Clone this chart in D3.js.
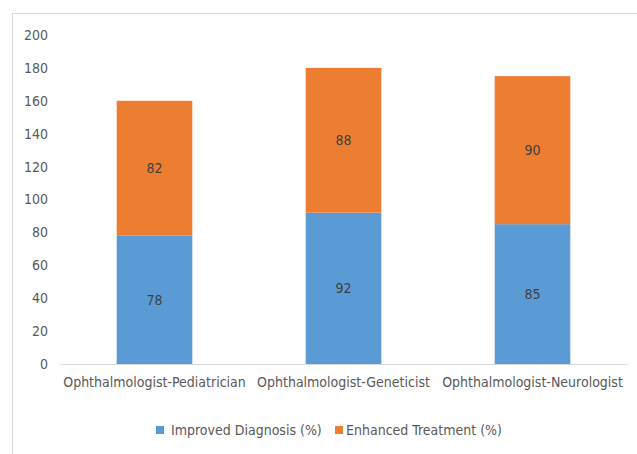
<!DOCTYPE html>
<html>
<head>
<meta charset="utf-8">
<script src="https://cdn.jsdelivr.net/npm/d3@7"></script>
<style>
  body { margin: 0; background: #fff; }
  text { font-family: "DejaVu Sans Condensed", sans-serif; }
</style>
</head>
<body>
<svg width="637" height="454"></svg>
<script>
var categories = ["Ophthalmologist-Pediatrician", "Ophthalmologist-Geneticist", "Ophthalmologist-Neurologist"];
var diagnosis = [78, 92, 85];
var treatment = [82, 88, 90];
var seriesNames = ["Improved Diagnosis (%)", "Enhanced Treatment (%)"];
var yTicks = [0, 20, 40, 60, 80, 100, 120, 140, 160, 180, 200];
var colors = ["#5b9bd5", "#ed7d31"];

var svg = d3.select("svg"),
    margin = {top: 35, left: 60},
    width = 627 - margin.left,
    height = 364 - margin.top;

var fontFam = "'DejaVu Sans Condensed', sans-serif";

// chart border (runs off the right and bottom of the picture)
svg.append("rect")
    .attr("x", 12.5).attr("y", 13.5)
    .attr("width", 640).attr("height", 460)
    .attr("fill", "none")
    .attr("stroke", "#d9d9d9");

var data = categories.map(function(c, i) {
    return {cat: c, diag: diagnosis[i], treat: treatment[i]};
});

var x = d3.scaleBand().domain(categories).range([0, width]).paddingInner(0.6).paddingOuter(0.3),
    y = d3.scaleLinear().domain([0, 200]).range([height, 0]);

var stack = d3.stack().keys(["diag", "treat"]);

var g = svg.append("g")
    .attr("transform", "translate(" + margin.left + "," + margin.top + ")");

var layer = g.selectAll(".layer")
    .data(stack(data))
    .enter().append("g")
    .attr("class", "layer")
    .attr("fill", function(d, i) { return colors[i]; });

layer.selectAll("rect")
    .data(function(d) { return d; })
    .enter().append("rect")
    .attr("x", function(d) { return x(d.data.cat); })
    .attr("y", function(d) { return y(d[1]); })
    .attr("width", x.bandwidth())
    .attr("height", function(d) { return y(d[0]) - y(d[1]); });

layer.selectAll(".lbl")
    .data(function(d) { return d; })
    .enter().append("text")
    .attr("class", "lbl")
    .attr("x", function(d) { return x(d.data.cat) + x.bandwidth() / 2; })
    .attr("y", function(d) { return y((d[0] + d[1]) / 2); })
    .attr("dy", "0.35em")
    .attr("text-anchor", "middle")
    .attr("fill", "#404040")
    .style("font-size", "14px")
    .text(function(d) { return d[1] - d[0]; });

// y axis: labels only
var yAxis = g.append("g")
    .call(d3.axisLeft(y).tickValues(yTicks).tickSize(0).tickPadding(12));
yAxis.select(".domain").remove();
yAxis.selectAll("text")
    .attr("fill", "#595959")
    .style("font-size", "14px")
    .style("font-family", fontFam);

// x axis
var xAxis = g.append("g")
    .attr("transform", "translate(0," + height + ")")
    .call(d3.axisBottom(x.copy().paddingInner(0).paddingOuter(0)).tickSize(0).tickPadding(13));
xAxis.select(".domain").attr("stroke", "#d9d9d9");
xAxis.selectAll("text")
    .attr("fill", "#595959")
    .style("font-size", "14px")
    .style("font-family", fontFam);

// legend
var legend = svg.append("g");
var lx = [156, 335];
seriesNames.forEach(function(s, i) {
    var row = legend.append("g")
        .attr("transform", "translate(" + lx[i] + ",426)");
    row.append("rect")
        .attr("width", 8)
        .attr("height", 8)
        .attr("fill", colors[i]);
    row.append("text")
        .attr("x", i === 0 ? 15 : 11)
        .attr("y", 4)
        .attr("dy", "0.35em")
        .attr("fill", "#595959")
        .style("font-size", "14px")
        .text(s);
});
</script>
</body>
</html>
